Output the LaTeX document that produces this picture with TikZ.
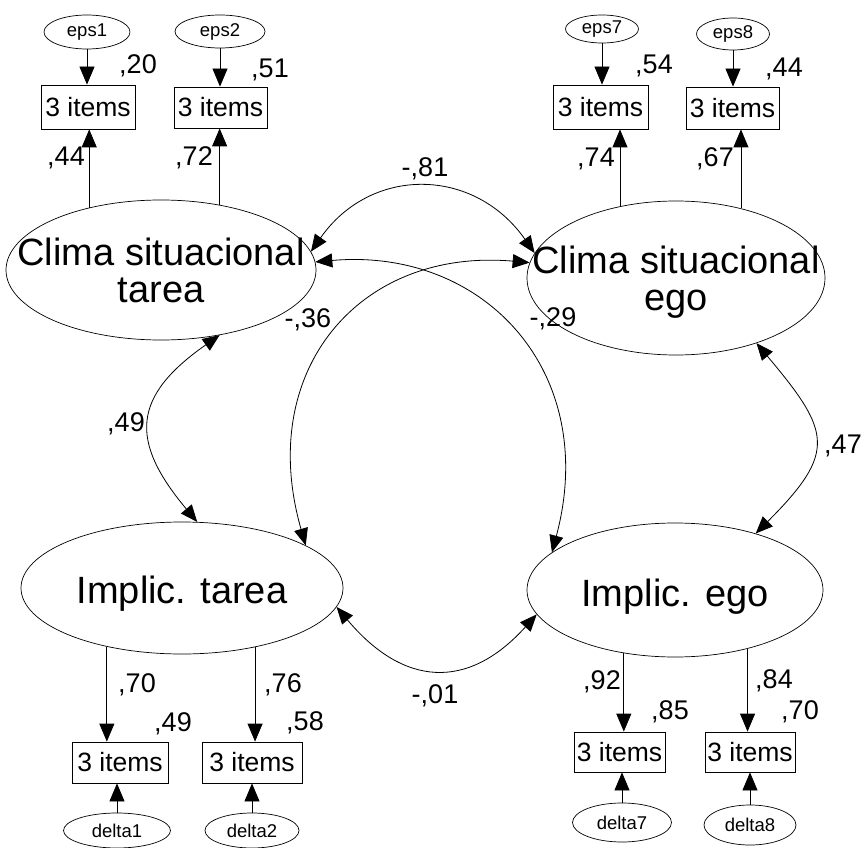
\documentclass[tikz,border=0pt]{standalone}
\usepackage{fontspec}
\setmainfont{Liberation Sans}
\usetikzlibrary{arrows.meta,shapes.geometric}
\begin{document}
\begin{tikzpicture}[x=1pt,y=1pt,
  lat/.style={ellipse,draw,line width=0.7pt,inner sep=0pt},
  err/.style={ellipse,draw,line width=0.7pt,inner sep=0pt,font=\fontsize{18.5}{18.5}\selectfont},
  obs/.style={rectangle,draw,line width=0.8pt,inner sep=0pt,font=\fontsize{26.5}{26.5}\selectfont},
  num/.style={anchor=base,inner sep=0pt,font=\fontsize{27}{27}\selectfont},
  arr/.style={-{Triangle[length=18pt,width=15pt]},line width=0.8pt},
  cov/.style={{Triangle[length=17pt,width=14pt]}-{Triangle[length=17pt,width=14pt]},line width=0.8pt},
  bigtxt/.style={font=\fontsize{38}{37}\selectfont,align=center,inner sep=0pt}
]
\useasboundingbox (0,0) rectangle (865,-848);

% latent variables
\node[lat,minimum width=310pt,minimum height=140pt,
  label={[bigtxt]center:Clima situacional\\tarea}] (ctarea) at (161,-270) {};
\node[lat,minimum width=298pt,minimum height=154pt,
  label={[bigtxt,yshift=-4pt]center:Clima situacional\\ego}] (cego) at (676,-278) {};
\node[lat,minimum width=322pt,minimum height=132pt,
  label={[bigtxt,yshift=-6pt]center:Implic. tarea}] (itarea) at (182,-588) {};
\node[lat,minimum width=296pt,minimum height=134pt,
  label={[bigtxt,yshift=-7pt]center:Implic. ego}] (iego) at (675,-590) {};

% observed boxes
\node[obs,minimum width=94pt,minimum height=44pt] (b1) at (88,-107) {3 items};
\node[obs,minimum width=93pt,minimum height=41pt] (b2) at (220.5,-107.5) {3 items};
\node[obs,minimum width=95pt,minimum height=44pt] (b7) at (600.5,-107) {3 items};
\node[obs,minimum width=93pt,minimum height=42pt] (b8) at (732.5,-108) {3 items};
\node[obs,minimum width=96pt,minimum height=41pt] (d1b) at (120,-762.5) {3 items};
\node[obs,minimum width=100pt,minimum height=41pt] (d2b) at (252,-762.5) {3 items};
\node[obs,minimum width=91pt,minimum height=40pt] (d7b) at (619.5,-752) {3 items};
\node[obs,minimum width=90pt,minimum height=40pt] (d8b) at (750,-752) {3 items};

% error terms
\node[err,minimum width=86pt,minimum height=34pt] (e1) at (87,-32) {eps1};
\node[err,minimum width=90pt,minimum height=33pt] (e2) at (220,-31.5) {eps2};
\node[err,minimum width=73pt,minimum height=28pt] (e7) at (602,-29) {eps7};
\node[err,minimum width=73pt,minimum height=32pt] (e8) at (733,-34) {eps8};
\node[err,minimum width=107pt,minimum height=35pt] (d1) at (117,-830.5) {delta1};
\node[err,minimum width=94pt,minimum height=35pt] (d2) at (252,-830.5) {delta2};
\node[err,minimum width=99pt,minimum height=39pt] (d7) at (622,-822.5) {delta7};
\node[err,minimum width=92pt,minimum height=40pt] (d8) at (750,-825) {delta8};

% error arrows
\draw[arr] (e1.south) -- (e1.south |- b1.north);
\draw[arr] (e2.south) -- (e2.south |- b2.north);
\draw[arr] (e7.south) -- (e7.south |- b7.north);
\draw[arr] (e8.south) -- (e8.south |- b8.north);
\draw[arr] (d1.north) -- (d1.north |- d1b.south);
\draw[arr] (d2.north) -- (d2.north |- d2b.south);
\draw[arr] (d7.north) -- (d7.north |- d7b.south);
\draw[arr] (d8.north) -- (d8.north |- d8b.south);

% loadings
\draw[arr] (ctarea.139.8) -- (ctarea.139.8 |- b1.south);
\draw[arr] (ctarea.48.2) -- (ctarea.48.2 |- b2.south);
\draw[arr] (cego.128.7) -- (cego.128.7 |- b7.south);
\draw[arr] (cego.47.4) -- (cego.47.4 |- b8.south);
\draw[arr] (itarea.-142.1) -- (itarea.-142.1 |- d1b.north);
\draw[arr] (itarea.-39.3) -- (itarea.-39.3 |- d2b.north);
\draw[arr] (iego.-129) -- (iego.-129 |- d7b.north);
\draw[arr] (iego.-39.6) -- (iego.-39.6 |- d8b.north);

% covariances
\draw[cov] (ctarea.7) to[out=55,in=125,looseness=1.2] (cego.170);
\draw[cov] (ctarea.3) .. controls +(5:170) and +(75:186) .. (iego.163);
\draw[cov] (cego.174) .. controls +(175:171) and +(106:182) .. (itarea.19);
\draw[cov] (ctarea.-48) to[out=215,in=130,looseness=1.45] (itarea.77);
\draw[cov] (cego.-39) to[out=-50,in=45,looseness=1.55] (iego.35);
\draw[cov] (itarea.-7) to[out=-50,in=228,looseness=1.32] (iego.190);

% numbers
\node[num] (n1) at (138,-74) {,20};
\node[num] (n2) at (270,-78) {,51};
\node[num] (n3) at (66,-165) {,44};
\node[num] (n4) at (194,-165) {,72};
\node[num] (n5) at (654,-74) {,54};
\node[num] (n6) at (784,-77) {,44};
\node[num] (n7) at (596,-167) {,74};
\node[num] (n8) at (715,-167) {,67};
\node[num] (n9) at (425,-177) {-,81};
\node[num] (n10) at (308,-327) {-,36};
\node[num] (n11) at (553,-326) {-,29};
\node[num] (n12) at (126,-431) {,49};
\node[num] (n13) at (843,-453) {,47};
\node[num] (n14) at (435,-703) {-,01};
\node[num] (n15) at (137,-692) {,70};
\node[num] (n16) at (173,-731) {,49};
\node[num] (n17) at (283,-692) {,76};
\node[num] (n18) at (305,-730) {,58};
\node[num] (n19) at (602,-689) {,92};
\node[num] (n20) at (670,-719) {,85};
\node[num] (n21) at (774,-688) {,84};
\node[num] (n22) at (800,-719) {,70};
\end{tikzpicture}
\end{document}
